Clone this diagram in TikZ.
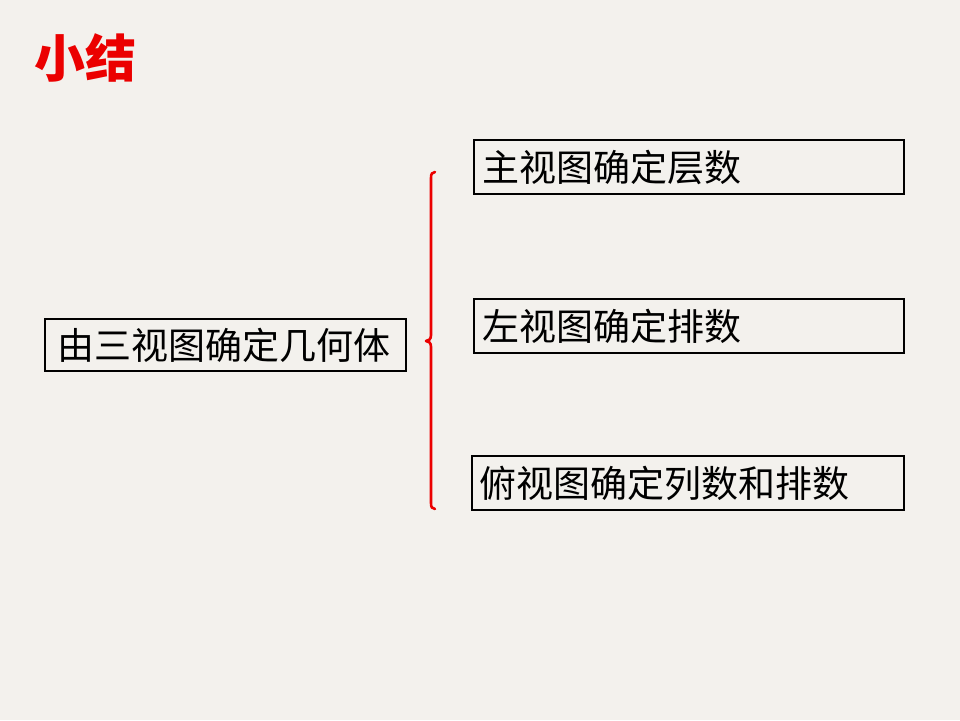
\documentclass[tikz,border=0pt]{standalone}
\usepackage{fontspec}
\newfontfamily\cjk{Noto Sans CJK SC}
\definecolor{paper}{RGB}{243,241,237}
\definecolor{titlered}{RGB}{235,0,0}
\tikzset{
  viewbox/.style={draw=black,line width=2pt,inner sep=0pt,anchor=north west,
    font=\cjk\fontsize{37}{42}\selectfont,align=left},
}
\begin{document}
\begin{tikzpicture}[x=1pt,y=-1pt]
\fill[paper] (0,0) rectangle (960,720);
\useasboundingbox (0,0) rectangle (960,720);
\node[anchor=west,text=titlered,font=\cjk\bfseries\fontsize{51}{56}\selectfont,inner sep=0pt] (title) at (34,58) {小结};
\pgfmathsetmacro{\boxh}{52}
\node[viewbox,minimum width=361pt,minimum height=\boxh pt,text width=337pt] (whole) at (44,318) {由三视图确定几何体};
\node[viewbox,minimum width=430pt,minimum height=54pt,text width=414pt] (front) at (473,139) {主视图确定层数};
\node[viewbox,minimum width=430pt,minimum height=54pt,text width=414pt] (side) at (473,298) {左视图确定排数};
\node[viewbox,minimum width=432pt,minimum height=54pt,text width=418pt] (top) at (471,455) {俯视图确定列数和排数};
% brace
\draw[titlered,line width=2.6pt,line cap=round,line join=round]
  (435,172) .. controls (432,172) and (431,174) .. (431,178) -- (431,335)
  .. controls (431,339) and (429,341) .. (426,341)
  .. controls (429,341) and (431,343) .. (431,347) -- (431,503)
  .. controls (431,507) and (432,509) .. (435,509);
\end{tikzpicture}
\end{document}
